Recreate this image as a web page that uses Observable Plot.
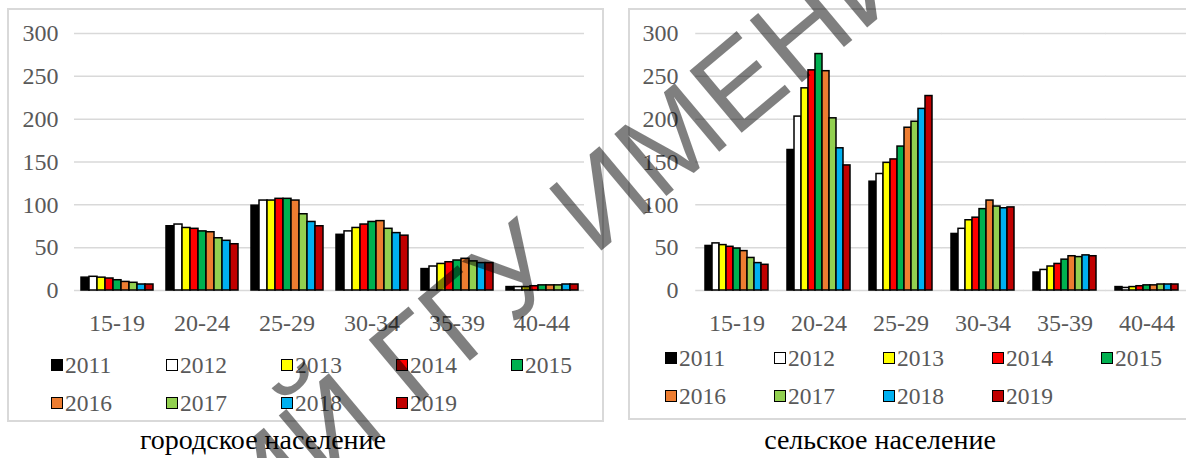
<!DOCTYPE html>
<html><head><meta charset="utf-8">
<script src="https://cdn.jsdelivr.net/npm/d3@7"></script>
<script src="https://cdn.jsdelivr.net/npm/@observablehq/plot@0.6"></script>
<style>
body{margin:0;background:#fff;overflow:hidden}
#root{position:relative;width:1186px;height:458px;overflow:hidden;font-family:"Liberation Serif",Tinos,"Times New Roman",Times,"Nimbus Roman","Noto Serif","DejaVu Serif",FreeSerif,serif;background:#fff}
.box{position:absolute;border:2px solid #d9d9d9;box-sizing:border-box}
.plot{position:absolute;top:0}
.legend{position:absolute;display:flex;flex-wrap:wrap}
.item{display:flex;align-items:center;height:38px;font-size:23.5px;color:#595959;white-space:nowrap}
.swatch{width:10px;height:10px;border:1.5px solid #000;margin-right:2px}
.title{position:absolute;font-size:28px;line-height:30px;color:#000;transform:translateX(-50%);white-space:nowrap}
#wm{position:absolute;left:0;top:0;pointer-events:none}
</style></head>
<body><div id="root"></div>
<script>
// ---- data ----
const ageGroups = ["15-19","20-24","25-29","30-34","35-39","40-44"];
const years = ["2011","2012","2013","2014","2015","2016","2017","2018","2019"];
const yearColors = ["#000000","#ffffff","#ffff00","#ff0000","#00b050","#ed7d31","#92d050","#00b0f0","#c00000"];
const yTicks = [0,50,100,150,200,250,300];

// городское население (values for 2011..2019)
const urban_15_19 = [15,16,15,14,12,10,9,7,7];
const urban_20_24 = [75,77,73,72,69,68,61,58,54];
const urban_25_29 = [99,105,105,107,107,105,89,80,75];
const urban_30_34 = [65,69,73,77,80,81,72,67,64];
const urban_35_39 = [25,28,31,33,35,37,34,32,32];
const urban_40_44 = [4,4,4,5,6,6,6,7,7];

// сельское население (values for 2011..2019)
const rural_15_19 = [52,55,53,51,49,46,38,32,30];
const rural_20_24 = [164,203,236,257,276,256,201,166,146];
const rural_25_29 = [127,136,149,153,168,190,197,212,227];
const rural_30_34 = [66,72,82,85,95,105,98,96,97];
const rural_35_39 = [21,24,28,31,36,40,39,41,40];
const rural_40_44 = [4,3,4,5,6,6,7,7,7];

const titles = ["городское население","сельское население"];
const watermarkText = "РЕПОЗИТОРИЙ ГГУ ИМЕНИ Ф. СКОРИНЫ";

const serif = "'Liberation Serif',Tinos,'Times New Roman',Times,'Nimbus Roman','Noto Serif','DejaVu Serif',FreeSerif,serif";

function toRows(groupsValues){
  const rows=[];
  groupsValues.forEach((vals,gi)=>vals.forEach((v,yi)=>rows.push({group:ageGroups[gi],year:years[yi],value:v})));
  return rows;
}
const urbanRows = toRows([urban_15_19,urban_20_24,urban_25_29,urban_30_34,urban_35_39,urban_40_44]);
const ruralRows = toRows([rural_15_19,rural_20_24,rural_25_29,rural_30_34,rural_35_39,rural_40_44]);

const root = document.getElementById("root");

function addBox(l,t,w,h){const d=document.createElement("div");d.className="box";Object.assign(d.style,{left:l+"px",top:t+"px",width:w+"px",height:h+"px"});root.appendChild(d);}
addBox(7,8,597,414);
addBox(628,8,600,412);

function panel(rows,{left,width,marginLeft,marginRight,gap,tickPadding}){
  const chart = Plot.plot({
    width, height:345, marginTop:33, marginBottom:55, marginLeft, marginRight,
    style:{fontFamily:serif,fontSize:"24px",color:"#595959",background:"transparent",overflow:"visible"},
    fx:{domain:ageGroups,paddingInner:0.14,paddingOuter:0.07,label:null,axis:"bottom",tickSize:0,tickPadding:23},
    x:{domain:years,padding:0,axis:null},
    y:{domain:[0,300],ticks:yTicks,tickSize:0,tickPadding,label:null},
    color:{domain:years,range:yearColors},
    marks:[
      Plot.ruleY(yTicks,{stroke:"#d9d9d9",strokeWidth:1.5,insetLeft:-gap,insetRight:-gap}),
      Plot.barY(rows,{fx:"group",x:"year",y:"value",fill:"year",stroke:"#000",strokeWidth:1.5})
    ]
  });
  chart.classList.add("plot");
  chart.style.left=left+"px";
  root.appendChild(chart);
}
panel(urbanRows,{left:0,width:604,marginLeft:74,marginRight:19,gap:6,tickPadding:22});
panel(ruralRows,{left:604,width:586,marginLeft:91,marginRight:2,gap:5.75,tickPadding:23});

function legend(left,top,itemW){
  const lg=document.createElement("div");lg.className="legend";
  Object.assign(lg.style,{left:left+"px",top:top+"px",width:(itemW*5+5)+"px"});
  years.forEach((y,i)=>{
    const it=document.createElement("div");it.className="item";it.style.width=itemW+"px";
    const sw=document.createElement("span");sw.className="swatch";sw.style.background=yearColors[i];
    it.appendChild(sw);it.appendChild(document.createTextNode(y));lg.appendChild(it);
  });
  root.appendChild(lg);
}
legend(51,346,115);
legend(665,339,109);

function title(text,cx,cy){const d=document.createElement("div");d.className="title";d.textContent=text;d.style.left=cx+"px";d.style.top=(cy-15)+"px";root.appendChild(d);}
title(titles[0],263,440);
title(titles[1],880,440);

// watermark overlay
const svg=d3.select(root).append("svg").attr("id","wm").attr("width",1186).attr("height",458);
svg.append("text").attr("transform","translate(614,240) rotate(-40)").attr("text-anchor","middle")
  .attr("font-family","'Liberation Sans',Arial,'DejaVu Sans',sans-serif").attr("font-size",118).attr("fill","#000").attr("fill-opacity",0.5)
  .text(watermarkText);
</script></body></html>
